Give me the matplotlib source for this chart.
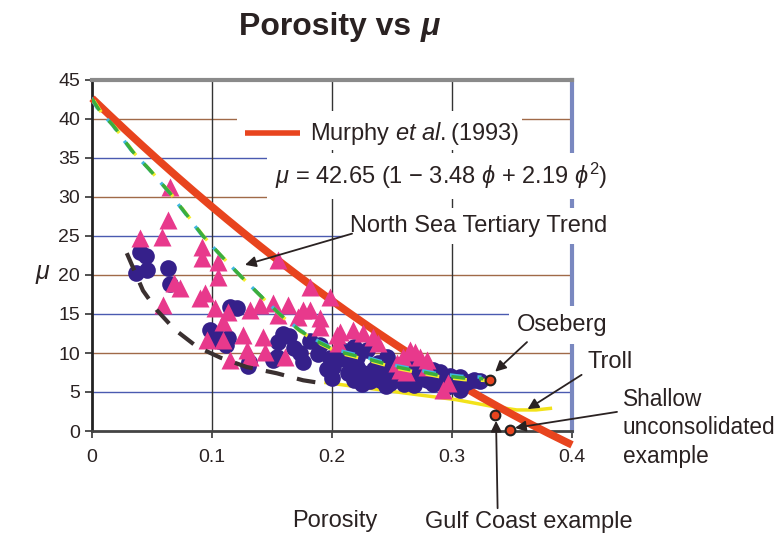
import numpy as np
import matplotlib
matplotlib.use("Agg")
import matplotlib.pyplot as plt
import matplotlib.patheffects as pe
from matplotlib.patches import Rectangle

plt.rcParams['font.family'] = ['Liberation Sans', 'DejaVu Sans']
plt.rcParams['mathtext.fontset'] = 'custom'
plt.rcParams['mathtext.rm'] = 'Liberation Sans'
plt.rcParams['mathtext.it'] = 'Liberation Sans:italic'

# Murphy et al. (1993) fit coefficients
MURPHY_A, MURPHY_B, MURPHY_C = 42.65, 3.48, 2.19

# measured data: circles
phi_circ = [0.040, 0.045, 0.037, 0.046, 0.063, 0.065,
            0.115, 0.121, 0.098, 0.103, 0.113, 0.112, 0.106, 0.130, 0.131,
            0.151, 0.159, 0.155, 0.168, 0.173, 0.182, 0.188, 0.198, 0.201,
            0.213, 0.196, 0.176, 0.208, 0.221, 0.218, 0.154, 0.164, 0.190,
            0.221, 0.229, 0.238, 0.226, 0.246, 0.251, 0.257, 0.263, 0.271,
            0.279, 0.284, 0.290, 0.240, 0.218, 0.296, 0.232, 0.248, 0.268,
            0.284, 0.235, 0.255, 0.275, 0.298, 0.301, 0.307, 0.3125, 0.318,
            0.323, 0.307, 0.225, 0.245, 0.260, 0.285, 0.270, 0.293, 0.200,
            0.210, 0.243, 0.265]
mu_circ = [23.0, 22.4, 20.2, 20.6, 20.9, 18.8,
           15.9, 15.8, 12.9, 12.3, 11.9, 11.0, 11.6, 8.3, 8.8,
           9.1, 12.4, 11.4, 10.7, 10.0, 11.5, 9.9, 9.4, 8.2,
           7.4, 7.9, 8.8, 10.4, 8.2, 10.8, 9.5, 12.2, 11.0,
           9.5, 10.4, 8.7, 7.4, 9.5, 7.4, 6.5, 8.2, 7.4,
           6.5, 7.8, 7.6, 6.5, 6.5, 5.6, 6.4, 6.2, 5.9,
           6.0, 8.0, 8.5, 8.3, 7.0, 6.5, 6.9, 6.3, 6.5,
           6.4, 5.3, 6.0, 5.8, 6.0, 6.4, 8.8, 6.8, 6.8,
           9.2, 7.9, 7.0]

# measured data: triangles
phi_tri = [0.065, 0.063, 0.040, 0.058, 0.092, 0.092, 0.105, 0.105, 0.068,
           0.073, 0.059, 0.090, 0.094, 0.1025, 0.113, 0.109, 0.132, 0.126,
           0.096, 0.109, 0.115, 0.129, 0.132, 0.140, 0.151, 0.163, 0.176,
           0.182, 0.155, 0.190, 0.198, 0.182, 0.155, 0.1425, 0.144, 0.161,
           0.204, 0.190, 0.172, 0.207, 0.2175, 0.205, 0.226, 0.234, 0.238,
           0.254, 0.259, 0.265, 0.269, 0.273, 0.279, 0.257, 0.262, 0.2925,
           0.297, 0.279]
mu_tri = [31.3, 27.0, 24.7, 24.9, 23.6, 22.2, 21.7, 19.7, 19.0,
          18.3, 16.2, 17.0, 17.7, 15.8, 15.3, 14.0, 15.5, 12.3,
          11.7, 11.7, 9.1, 10.4, 9.5, 16.2, 16.4, 16.2, 15.5,
          15.5, 14.9, 14.5, 17.2, 18.5, 21.9, 12.1, 10.1, 9.5,
          12.3, 13.3, 14.6, 12.7, 12.9, 11.3, 12.6, 12.1, 11.3,
          8.7, 9.5, 10.4, 10.1, 9.5, 9.1, 7.8, 7.6, 5.3,
          6.2, 8.2]

# North Sea Tertiary trend
phi_trend = [0.0, 0.007, 0.0175, 0.034, 0.048, 0.065, 0.0925, 0.108, 0.123,
             0.14, 0.157, 0.173, 0.19, 0.205, 0.226, 0.254, 0.2875, 0.309, 0.326]
mu_trend = [42.6, 40.9, 39.2, 35.8, 33.5, 30.5, 25.0, 22.4, 20.0,
            17.4, 14.9, 12.9, 11.3, 10.2, 9.4, 8.2, 7.2, 6.8, 6.7]

# lower bound (dashed)
phi_lower = [0.029, 0.0425, 0.054, 0.069, 0.0875, 0.107, 0.129, 0.154, 0.176, 0.1925]
mu_lower = [22.8, 18.0, 15.5, 13.0, 10.8, 9.4, 8.2, 7.4, 6.5, 6.1]

# Troll trend
phi_troll = [0.195, 0.254, 0.304, 0.332, 0.354, 0.37, 0.382]
mu_troll = [6.2, 5.0, 4.0, 3.2, 2.7, 2.7, 2.9]

# individual examples: Oseberg, Gulf Coast, shallow unconsolidated
phi_ex = [0.332, 0.336, 0.348]
mu_ex = [6.5, 2.1, 0.1]

TEXT = '#2a2222'
RED = '#e8441e'

fig = plt.figure(figsize=(7.82, 5.38), dpi=100)
ax = fig.add_axes([92 / 782, 1 - 431 / 538, 480 / 782, 351 / 538])
ax.set_xlim(0, 0.4)
ax.set_ylim(0, 45)

# grid lines
for v in range(5, 45, 5):
    ax.axhline(v, color='#4a5ab0' if v % 10 else '#a06a48', lw=1.0, zorder=0.5)
for v in [0.1, 0.2, 0.3]:
    ax.axvline(v, color='#333333', lw=1.0, zorder=0.5)

phi = np.linspace(0, 0.4, 200)
mu_murphy = MURPHY_A * (1 - MURPHY_B * phi + MURPHY_C * phi ** 2)
ax.plot(phi, mu_murphy, color=RED, lw=5.5, solid_capstyle='butt', zorder=2.8, clip_on=False)

ax.plot(phi_troll, mu_troll, color='#f2e21a', lw=2.5, zorder=2.6)

ax.plot(phi_circ, mu_circ, 'o', ms=12, color='#35208a', mec='none', zorder=3)
ax.plot(phi_tri, mu_tri, '^', ms=13, color='#e8398c', mec='none', zorder=3.5)

ax.plot(phi_lower, mu_lower, color='#3a3030', lw=3, dashes=(4.5, 3.2), zorder=4)

trend, = ax.plot(phi_trend, mu_trend, color='#3cae3c', lw=2.5, dashes=(4, 4), zorder=5)
trend.set_path_effects([
    pe.Stroke(linewidth=2.5, foreground='#f4ee30', offset=(1.2, -1.2)),
    pe.Stroke(linewidth=2.5, foreground='#40b8e0', offset=(-1.2, 1.2)),
    pe.Normal()])

ax.plot(phi_ex, mu_ex, 'o', ms=7, color=RED, mec='#222222', mew=1.5, zorder=6, clip_on=False)

# frame
ax.spines['left'].set_color('#222222')
ax.spines['left'].set_linewidth(2)
ax.spines['bottom'].set_color('#444444')
ax.spines['bottom'].set_linewidth(2)
ax.spines['top'].set_color('#8a8a8a')
ax.spines['top'].set_linewidth(3)
ax.spines['right'].set_color('#7a88c0')
ax.spines['right'].set_linewidth(3)

ax.set_xticks([0, 0.1, 0.2, 0.3, 0.4])
ax.set_xticklabels(['0', '0.1', '0.2', '0.3', '0.4'])
ax.set_yticks(range(0, 50, 5))
ax.tick_params(axis='both', labelsize=14, colors='#333333', labelcolor=TEXT, length=5, width=1.2)
ax.tick_params(axis='x', pad=8)

# legend and fit equation
ax.add_patch(Rectangle((0.121, 36.0), 0.237, 5.0, facecolor='white', edgecolor='none', zorder=2))
ax.plot([0.1275, 0.1733], [38.2, 38.2], color=RED, lw=4, solid_capstyle='butt', zorder=2.2)
ax.text(0.1817, 38.2, r'Murphy $et\ al.$(1993)', fontsize=17, color=TEXT, va='center', zorder=3)
ax.text(0.1525, 32.7, r'$\mu$ = 42.65 (1 $-$ 3.48 $\phi$ + 2.19 $\phi^2$)', fontsize=17,
        color=TEXT, va='center', zorder=3,
        bbox=dict(facecolor='white', edgecolor='none', pad=6))

arrow = dict(arrowstyle='-|>', color=TEXT, lw=1.3, mutation_scale=16, shrinkA=0, shrinkB=0)

ax.text(0.215, 26.3, 'North Sea Tertiary Trend', fontsize=17, color=TEXT, va='center',
        zorder=3, bbox=dict(facecolor='white', edgecolor='none', pad=5))
ax.annotate('', xy=(0.1275, 21.3), xytext=(0.2167, 25.3), arrowprops=arrow, zorder=6)

ax.text(0.354, 13.6, 'Oseberg', fontsize=17, color=TEXT, va='center',
        zorder=3, bbox=dict(facecolor='white', edgecolor='none', pad=6))
ax.annotate('', xy=(0.336, 7.6), xytext=(0.3625, 11.4), arrowprops=arrow,
            annotation_clip=False, zorder=6)

ax.text(0.413, 8.85, 'Troll', fontsize=17, color=TEXT, va='center')
ax.annotate('', xy=(0.363, 2.8), xytext=(0.408, 7.2), arrowprops=arrow,
            annotation_clip=False, zorder=6)

ax.text(0.4425, 0.4, 'Shallow\nunconsolidated\nexample', fontsize=16.3, color=TEXT,
        va='center', linespacing=1.3)
ax.annotate('', xy=(0.3525, 0.4), xytext=(0.4375, 2.45), arrowprops=arrow,
            annotation_clip=False, zorder=6)

ax.text(0.2775, -11.7, 'Gulf Coast example', fontsize=17, color=TEXT, va='center')
ax.annotate('', xy=(0.3367, 1.3), xytext=(0.338, -9.9), arrowprops=arrow,
            annotation_clip=False, zorder=6)

ax.text(0.2025, -11.5, 'Porosity', fontsize=17, color=TEXT, va='center', ha='center')
fig.text(42 / 782, 1 - 272 / 538, 'μ', fontsize=18, style='italic', color=TEXT,
         ha='center', va='center')

# title
fig.text(420 / 782, 1 - 27 / 538, 'Porosity vs ', fontsize=23, fontweight='bold',
         color=TEXT, ha='right', va='center')
fig.text(421 / 782, 1 - 27 / 538, 'μ', fontsize=23, fontweight='bold', style='italic',
         color=TEXT, ha='left', va='center')

fig.savefig('out.png', dpi=100, facecolor='white')
